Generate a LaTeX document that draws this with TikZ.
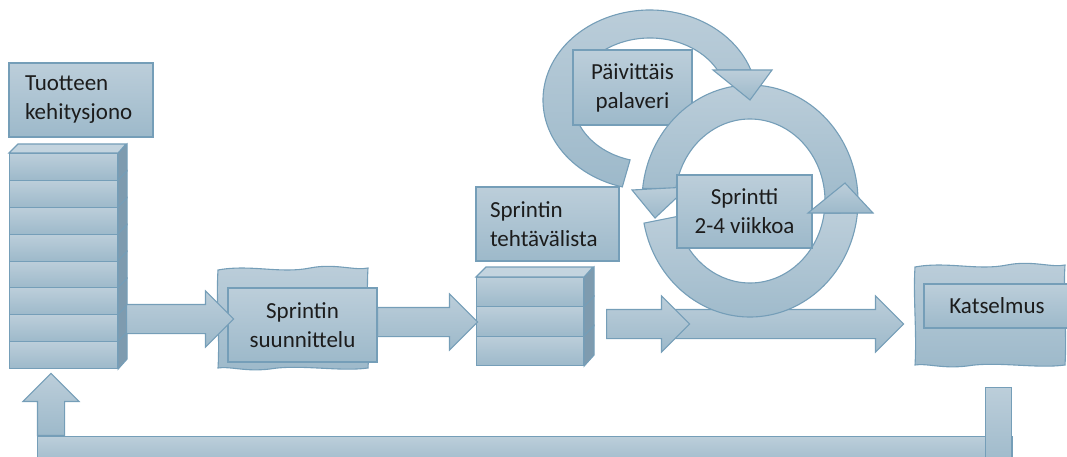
\documentclass[tikz,border=0pt]{standalone}
\usepackage{fontspec}
\setmainfont{Carlito}
\usetikzlibrary{calc,shapes.arrows}

\definecolor{boxtop}{RGB}{188,206,218}
\definecolor{boxbot}{RGB}{157,185,202}
\definecolor{boxedge}{RGB}{117,158,184}
\definecolor{cubeside}{RGB}{126,155,175}
\definecolor{cubetop}{RGB}{195,212,223}
\definecolor{inktext}{RGB}{28,28,28}

\tikzset{
  boxcol/.style={draw=boxedge, line width=1.1pt, top color=boxtop, bottom color=boxbot},
  tbox/.style={boxcol, font=\fontsize{23}{29}\selectfont, text=inktext, inner sep=0pt, align=center},
  lbox/.style={tbox, align=left, text width=#1},
  slab/.style={boxcol, inner sep=0pt, anchor=north west},
  sideface/.style={draw=boxedge, line width=1.1pt, fill=cubeside},
  topface/.style={draw=boxedge, line width=1.1pt, fill=cubetop},
  blockarrow/.style={single arrow, boxcol, minimum height=#1, minimum width=1pt,
    inner sep=14pt, single arrow head extend=13.5pt, anchor=tail}
}

\begin{document}
\begin{tikzpicture}[x=1pt, y=-1pt]
  \useasboundingbox (0,0) rectangle (1067,457);

  % paluu katselmuksesta kehitysjonoon
  \node[blockarrow=62pt, shape border rotate=90, inner sep=13pt, single arrow head extend=14.5pt] (backup) at (51,436) {};
  \node[boxcol, anchor=north west, inner sep=0pt, minimum width=975pt, minimum height=30pt] (backbar) at (37,436) {};
  \node[boxcol, anchor=north west, inner sep=0pt, minimum width=26pt, minimum height=80pt] (backleg) at (985,387) {};

  % tuotteen kehitysjono
  \node[lbox=112pt, inner xsep=16pt, minimum width=144pt, minimum height=74pt] (backlog) at (81,100) {Tuotteen\\kehitysjono};
  \foreach \i in {0,...,7} {
    \node[slab, minimum width=108pt, minimum height=26.875pt] (blog\i) at (9,153+\i*26.875) {};
    \path[sideface] (blog\i.north east) -- ++(9,-9) -- ++(0,26.875) -- (blog\i.south east) -- cycle;
  }
  \path[topface] (blog0.north west) -- ++(9,-9) -- ++(108,0) -- (blog0.north east) -- cycle;

  % sprintin suunnittelu
  \path[boxcol] (218,270) .. controls (250,264) and (280,274) .. (310,268) .. controls (335,263) and (355,271) .. (368,268)
    .. controls (366,300) and (370,335) .. (368,368) .. controls (340,372) and (300,364) .. (270,369)
    .. controls (245,372) and (230,366) .. (218,368) .. controls (220,335) and (216,300) .. (218,270) -- cycle;
  \node[tbox, minimum width=149pt, minimum height=74pt] (plan) at (302.5,325) {Sprintin\\suunnittelu};
  \node[blockarrow=107pt] (toplan) at (126,319) {};

  % sprintin tehtavalista
  \node[lbox=115pt, inner xsep=14pt, minimum width=143pt, minimum height=74pt] (tasklist) at (547.5,224) {Sprintin\\tehtävälista};
  \foreach \i in {0,1,2} {
    \node[slab, minimum width=107pt, minimum height=29.33pt] (task\i) at (476,277+\i*29.33) {};
    \path[sideface] (task\i.north east) -- ++(10,-10) -- ++(0,29.33) -- (task\i.south east) -- cycle;
  }
  \path[topface] (task0.north west) -- ++(10,-10) -- ++(107,0) -- (task0.north east) -- cycle;
  \node[blockarrow=100pt] (totasks) at (377,322) {};

  % sprintin nuolet
  \node[blockarrow=230pt] (toreview) at (673,324) {};
  \node[blockarrow=83pt] (tosprint) at (606,324) {};

  % paivittainen kierros
  \coordinate (dailyc) at (650,100);
  \path[boxcol] ($(dailyc)+(105:107 and 90)$) arc[start angle=105, end angle=340.5, x radius=107, y radius=90]
    -- ($(dailyc)+(331:77 and 62)$) arc[start angle=331, end angle=105, x radius=77, y radius=62] -- cycle;
  \node[tbox, minimum width=119pt, minimum height=75pt] (daily) at (632.5,87.5) {Päivittäis\\palaveri};

  % sprintin kierros
  \coordinate (sprintc) at (750,201);
  \path[boxcol] ($(sprintc)+(169:108 and 116)$) arc[start angle=169, end angle=5.9, x radius=108, y radius=116]
    -- ($(sprintc)+(8.4:75 and 82)$) arc[start angle=8.4, end angle=169, x radius=75, y radius=82] -- cycle;
  \path[boxcol] ($(sprintc)+(5.9:108 and 116)$) arc[start angle=5.9, end angle=-173.8, x radius=108, y radius=116]
    -- ($(sprintc)+(-171.2:75 and 82)$) arc[start angle=-171.2, end angle=8.4, x radius=75, y radius=82] -- cycle;
  \path[boxcol] (632,190) -- (688,187) -- (655,218) -- cycle;
  \node[tbox, minimum width=135pt, minimum height=73pt] (sprint) at (744.5,211.5) {Sprintti\\2-4 viikkoa};
  \path[boxcol] (808,213) -- (873,213) -- (845,183) -- cycle;
  \path[boxcol] (713,70) -- (772,70) -- (750,100) -- cycle;

  % katselmus
  \path[boxcol, shift={(697,-3)}] (218,270) .. controls (250,264) and (280,274) .. (310,268) .. controls (335,263) and (355,271) .. (368,268)
    .. controls (366,300) and (370,335) .. (368,368) .. controls (340,372) and (300,364) .. (270,369)
    .. controls (245,372) and (230,366) .. (218,368) .. controls (220,335) and (216,300) .. (218,270) -- cycle;
  \node[tbox, minimum width=146pt, minimum height=44pt] (review) at (997,306) {Katselmus};
\end{tikzpicture}
\end{document}
